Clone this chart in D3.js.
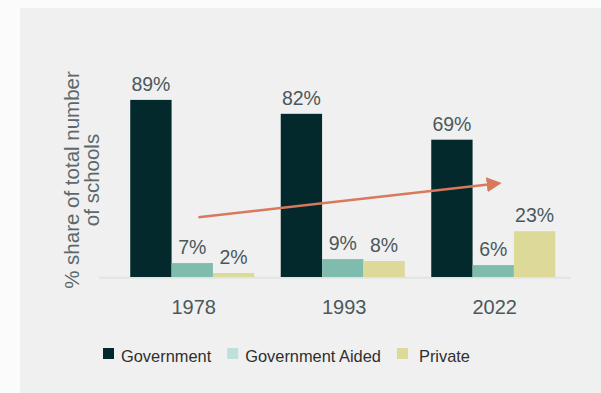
<!DOCTYPE html>
<html>
<head>
<meta charset="utf-8">
<script src="https://cdn.jsdelivr.net/npm/d3@7"></script>
<style>
  html, body { margin: 0; padding: 0; background: #fbfbfb; }
  svg { display: block; }
  text { font-family: "Liberation Sans", Arial, sans-serif; }
</style>
</head>
<body>
<svg id="chart" width="601" height="393"></svg>
<script>
// School share by management type, per survey year
const years = ["1978", "1993", "2022"];
const seriesNames = ["Government", "Government Aided", "Private"];
const government = [89, 82, 69];
const governmentAided = [7, 9, 6];
const privateSchools = [2, 8, 23];
const barColors = ["#03292c", "#80bcae", "#ddd998"];
const legendColors = ["#03292c", "#bfe0da", "#ddd998"];
const yTitleLines = ["% share of total number", "of schools"];

// Trend arrow: [year, position within group (0..1), value in %]
const trendStart = ["1978", 0.55, 30];
const trendEnd = ["2022", 0.58, 47.3];

const svg = d3.select("#chart");

// grey panel behind the chart
svg.append("rect")
  .attr("x", 20).attr("y", 8)
  .attr("width", 601 - 20).attr("height", 393 - 8)
  .attr("fill", "#f0f0f0");

const x0 = d3.scaleBand()
  .domain(years)
  .range([117, 568.5])
  .paddingInner(0.176)
  .paddingOuter(0.088);

const x1 = d3.scaleBand()
  .domain(seriesNames)
  .range([0, x0.bandwidth()]);

const y = d3.scaleLinear().domain([0, 100]).range([277, 78]);

const values = [government, governmentAided, privateSchools];
const rows = years.map((yr, i) => ({
  year: yr,
  bars: seriesNames.map((s, j) => ({ series: s, idx: j, value: values[j][i] }))
}));

// baseline
svg.append("line")
  .attr("x1", 99).attr("x2", 571)
  .attr("y1", y(0) + 0.8).attr("y2", y(0) + 0.8)
  .attr("stroke", "#dfe5e4").attr("stroke-width", 2);

const groups = svg.selectAll("g.year")
  .data(rows)
  .join("g")
  .attr("class", "year")
  .attr("transform", d => `translate(${x0(d.year)},0)`);

groups.selectAll("rect")
  .data(d => d.bars)
  .join("rect")
  .attr("x", d => x1(d.series))
  .attr("width", x1.bandwidth())
  .attr("y", d => y(d.value))
  .attr("height", d => y(0) - y(d.value))
  .attr("fill", d => barColors[d.idx]);

groups.selectAll("text.val")
  .data(d => d.bars)
  .join("text")
  .attr("class", "val")
  .attr("x", d => x1(d.series) + x1.bandwidth() / 2)
  .attr("y", d => y(d.value) - 9)
  .attr("text-anchor", "middle")
  .attr("font-size", 19.5)
  .attr("fill", "#4b585b")
  .text(d => d.value + "%");

// x-axis year labels
svg.selectAll("text.year")
  .data(years)
  .join("text")
  .attr("class", "year")
  .attr("x", d => x0(d) + x0.bandwidth() / 2 + 1.5)
  .attr("y", 314)
  .attr("text-anchor", "middle")
  .attr("font-size", 20)
  .attr("fill", "#4b585b")
  .text(d => d);

// y-axis title (two lines, rotated)
svg.selectAll("text.ytitle")
  .data(yTitleLines)
  .join("text")
  .attr("class", "ytitle")
  .attr("transform", (d, i) => `translate(${79 + i * 20},180) rotate(-90)`)
  .attr("text-anchor", "middle")
  .attr("font-size", 20.5)
  .attr("fill", "#5c686b")
  .text(d => d);

// trend arrow
const px = p => x0(p[0]) + x0.bandwidth() * p[1];
const defs = svg.append("defs");
defs.append("marker")
  .attr("id", "arrowhead")
  .attr("viewBox", "0 0 10 10")
  .attr("refX", 1).attr("refY", 5)
  .attr("markerWidth", 6).attr("markerHeight", 6)
  .attr("markerUnits", "strokeWidth")
  .attr("orient", "auto")
  .append("path")
  .attr("d", "M0,0 L10,5 L0,10 Z")
  .attr("fill", "#d8795b");

const sx = px(trendStart), sy = y(trendStart[2]);
const ex = px(trendEnd), ey = y(trendEnd[2]);
const len = Math.hypot(ex - sx, ey - sy);
const headLen = 15;
svg.append("line")
  .attr("x1", sx).attr("y1", sy)
  .attr("x2", sx + (ex - sx) * (len - headLen) / len)
  .attr("y2", sy + (ey - sy) * (len - headLen) / len)
  .attr("stroke", "#d8795b")
  .attr("stroke-width", 2.5)
  .attr("marker-end", "url(#arrowhead)");

// legend
const legend = svg.append("g").attr("transform", "translate(103,348)");
let lx = 0;
seriesNames.forEach((name, i) => {
  legend.append("rect")
    .attr("x", lx).attr("y", 0)
    .attr("width", 11).attr("height", 11)
    .attr("fill", legendColors[i]);
  const textGap = i === 2 ? 22 : 18;
  const t = legend.append("text")
    .attr("x", lx + textGap).attr("y", 14)
    .attr("font-size", 16.4)
    .attr("fill", "#2e2e2e")
    .text(name);
  lx += textGap + t.node().getComputedTextLength() + 16;
});
</script>
</body>
</html>
